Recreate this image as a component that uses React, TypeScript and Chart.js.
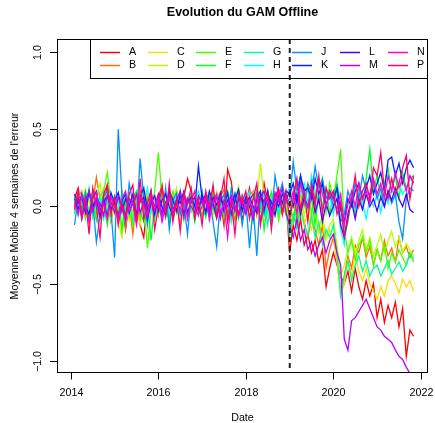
import React, { useEffect, useRef } from "react";
import { Chart, registerables } from "chart.js";

Chart.register(...registerables);

// ---- data (decimal years, monthly 4-week moving average of error) ----
const START_DATE = 2014.08;
const STEP = 1 / 12;
const BREAK_DATE = 2019;
const X_TICKS = [2014, 2016, 2018, 2020, 2022];
const X_TICK_LABELS = ["2014", "2016", "2018", "2020", "2022"];
const Y_TICKS = [-1, -0.5, 0, 0.5, 1];
const Y_TICK_LABELS = ["\u22121.0", "\u22120.5", "0.0", "0.5", "1.0"];
const SERIES_NAMES = ["A", "B", "C", "D", "E", "F", "G", "H", "J", "K", "L", "M", "N", "P"];
const COLORS = ["#FF0000", "#FF6D00", "#FFDB00", "#B6FF00", "#49FF00", "#00FF24", "#00FF92", "#00FFFF", "#0092FF", "#0024FF", "#4900FF", "#B600FF", "#FF00DB", "#FF006D"];

const A = [
  0.05, 0.12, -0.02, 0.08, -0.06, 0.1, 0.03, -0.08, 0.02, 0.14, -0.04,
  0.06, -0.1, 0.02, -0.15, 0.04, -0.05, 0.08, -0.12, -0.2, 0.03, 0.1, -0.06,
  0.05, 0.14, -0.03, 0.09, -0.08, 0.02, -0.1, 0.06, 0.18, 0.1, -0.04, 0.03,
  -0.06, 0.08, -0.02, 0.11, -0.07, 0.04, -0.12, 0.24, 0.16, -0.03, 0.07, -0.09,
  0.02, 0.12, -0.05, 0.09, -0.02, 0.15, 0.03, -0.08, 0.06, 0.1, -0.04, 0.05,
  -0.3, -0.12, -0.22, -0.08, -0.25, -0.18, -0.3, -0.22, -0.36, -0.28, -0.52, -0.4,
  -0.3, -0.38, -0.45, -0.5, -0.42, -0.55, -0.4, -0.52, -0.6, -0.48, -0.58, -0.5,
  -0.72, -0.6, -0.75, -0.64, -0.72, -0.62, -0.78, -0.66, -0.97, -0.8, -0.84,
];
const B = [
  -0.02, 0.06, 0.1, -0.04, 0.08, 0.02, 0.19, 0.05, -0.06, 0.04, -0.1,
  0.03, -0.08, 0.06, -0.14, 0.02, -0.18, 0.05, 0.1, -0.04, 0.07, -0.02, 0.04,
  -0.06, 0.08, 0.01, -0.1, 0.06, -0.03, 0.1, 0.02, -0.07, 0.05, 0.09, -0.02,
  0.04, -0.05, 0.07, 0.0, -0.08, 0.06, 0.11, -0.04, 0.03, -0.09, 0.05, 0.02,
  -0.03, 0.07, 0.1, -0.06, 0.04, -0.01, 0.08, -0.07, 0.02, 0.06, -0.05, 0.03,
  -0.15, -0.05, -0.12, 0.02, -0.1, -0.2, -0.08, -0.15, -0.25, -0.12, -0.4, -0.28,
  -0.2, -0.35, -0.55, -0.45, -0.32, -0.4, -0.25, -0.3, -0.2, -0.33, -0.26, -0.38,
  -0.28, -0.35, -0.22, -0.32, -0.27, -0.36, -0.2, -0.3, -0.26, -0.33, -0.28,
];
const C = [
  0.04, -0.06, 0.09, 0.02, -0.03, 0.07, -0.08, 0.05, 0.12, -0.02, 0.06,
  -0.05, 0.02, -0.18, 0.04, -0.09, 0.06, 0.01, -0.12, 0.05, 0.08, -0.04, 0.03,
  0.07, -0.06, 0.02, 0.1, -0.05, 0.04, -0.09, 0.06, 0.01, -0.04, 0.08, -0.02,
  0.05, 0.02, -0.07, 0.09, 0.03, -0.05, 0.06, -0.1, 0.04, 0.07, -0.03, 0.01,
  0.06, -0.04, 0.08, 0.02, -0.08, 0.05, 0.1, -0.03, 0.04, -0.06, 0.07, 0.0,
  -0.1, 0.02, -0.08, 0.05, -0.12, -0.04, -0.15, -0.06, -0.18, -0.1, -0.22, -0.15,
  -0.2, -0.35, -0.58, -0.5, -0.35, -0.45, -0.3, -0.42, -0.48, -0.4, -0.5, -0.55,
  -0.6, -0.52, -0.58, -0.48, -0.45, -0.5, -0.56, -0.47, -0.52, -0.48, -0.55,
];
const D = [
  0.02, 0.08, -0.05, 0.11, 0.04, -0.07, 0.06, 0.15, -0.02, 0.05, -0.08,
  0.04, -0.1, -0.2, 0.03, 0.07, -0.05, 0.02, -0.09, 0.1, -0.03, 0.05, 0.0,
  0.03, -0.07, 0.09, -0.02, 0.05, 0.12, -0.06, 0.03, -0.08, 0.06, 0.01, 0.08,
  -0.04, 0.07, 0.02, -0.06, 0.1, 0.04, -0.03, 0.08, -0.07, 0.05, 0.13, -0.02,
  0.04, -0.05, 0.09, 0.02, 0.28, 0.06, -0.04, 0.1, 0.03, -0.06, 0.07, 0.02,
  -0.05, 0.08, -0.02, 0.1, -0.06, 0.04, -0.1, 0.0, -0.15, -0.05, -0.2, -0.12,
  -0.08, -0.25, -0.45, -0.38, -0.28, -0.2, -0.3, -0.22, -0.15, -0.28, -0.2, -0.32,
  -0.25, -0.18, -0.3, -0.22, -0.16, -0.26, -0.2, -0.3, -0.24, -0.28, -0.32,
];
const E = [
  -0.03, 0.05, 0.02, -0.08, 0.09, 0.04, -0.05, 0.07, 0.1, 0.22, 0.03,
  0.06, -0.04, 0.08, -0.06, 0.02, -0.12, 0.05, -0.08, 0.04, -0.27, -0.02, 0.1,
  0.35, 0.05, -0.07, 0.03, 0.1, -0.04, 0.06, -0.09, 0.02, 0.08, -0.05, 0.04,
  0.01, -0.06, 0.09, 0.03, -0.04, 0.07, -0.08, 0.05, 0.02, -0.05, 0.1, -0.03,
  0.06, 0.02, -0.07, 0.12, 0.04, -0.05, 0.08, -0.02, 0.05, -0.09, 0.03, -0.06,
  -0.08, 0.05, -0.1, 0.08, 0.0, 0.12, -0.05, 0.1, 0.02, 0.18, -0.04, 0.15,
  0.05, 0.2, 0.37, -0.15, -0.3, -0.22, -0.35, -0.25, -0.2, -0.3, -0.22, -0.38,
  -0.28, -0.35, -0.25, -0.4, -0.3, -0.36, -0.28, -0.33, -0.38, -0.3, -0.36,
];
const F = [
  0.07, -0.04, 0.03, 0.1, -0.06, 0.02, -0.09, 0.05, 0.0, -0.12, 0.06,
  -0.02, 0.08, -0.15, 0.03, -0.06, 0.05, 0.1, -0.03, -0.1, 0.04, -0.22, 0.02,
  -0.05, 0.07, 0.02, -0.08, 0.05, -0.03, 0.09, 0.01, -0.06, 0.04, -0.1, 0.06,
  0.03, -0.07, 0.05, 0.08, -0.02, 0.06, -0.05, 0.1, -0.04, 0.02, -0.08, 0.07,
  -0.03, 0.05, -0.1, 0.04, 0.07, -0.15, 0.03, 0.09, -0.04, 0.06, -0.02, 0.08,
  0.02, -0.1, 0.06, -0.05, 0.1, -0.02, 0.05, -0.12, 0.08, 0.0, 0.12, -0.05,
  0.08, 0.15, 0.02, -0.2, -0.1, 0.05, -0.05, 0.12, 0.0, 0.18, 0.37, 0.1,
  0.2, 0.05, 0.15, 0.25, 0.1, 0.2, 0.05, 0.22, 0.12, 0.18, 0.2,
];
const G = [
  -0.05, 0.08, 0.03, -0.02, 0.12, -0.07, 0.04, 0.0, 0.09, -0.04, 0.06,
  0.02, -0.06, 0.1, -0.03, 0.05, -0.1, 0.03, 0.08, -0.05, 0.02, 0.06, -0.08,
  0.04, 0.0, -0.06, 0.08, 0.02, -0.04, 0.1, -0.07, 0.03, 0.06, -0.02, 0.05,
  -0.08, 0.04, 0.09, -0.03, 0.06, -0.06, 0.02, 0.08, -0.1, 0.04, 0.0, 0.07,
  0.03, -0.07, 0.05, 0.1, -0.03, 0.02, -0.12, 0.06, 0.04, -0.05, 0.09, -0.02,
  -0.2, -0.05, -0.15, -0.02, -0.12, -0.18, -0.06, -0.2, -0.1, -0.25, -0.15, -0.2,
  -0.12, -0.3, -0.58, -0.45, -0.35, -0.48, -0.38, -0.32, -0.42, -0.35, -0.45, -0.4,
  -0.38, -0.45, -0.4, -0.35, -0.44, -0.4, -0.36, -0.42, -0.38, -0.3, -0.34,
];
const H = [
  0.03, -0.06, 0.08, 0.02, -0.04, 0.1, -0.02, 0.05, -0.08, 0.04, 0.0,
  0.07, 0.02, -0.05, 0.09, -0.03, 0.04, -0.07, 0.06, 0.01, 0.12, -0.04, 0.03,
  -0.02, 0.05, 0.09, -0.04, 0.03, 0.07, -0.06, 0.02, 0.06, -0.03, 0.05, 0.1,
  0.02, -0.05, 0.06, 0.0, 0.08, -0.04, 0.05, 0.02, -0.06, 0.09, 0.03, -0.02,
  0.05, 0.1, -0.03, 0.06, 0.0, 0.08, -0.05, 0.04, 0.07, -0.02, 0.05, 0.08,
  0.12, 0.05, 0.18, 0.08, 0.15, 0.02, 0.2, 0.1, 0.05, 0.12, 0.0, 0.08,
  -0.05, 0.06, -0.15, -0.25, -0.05, 0.08, -0.02, 0.1, 0.02, -0.08, 0.05, 0.0,
  0.08, -0.04, 0.1, 0.02, 0.12, 0.05, 0.15, 0.08, 0.12, 0.18, 0.15,
];
const J = [
  -0.12, 0.05, -0.04, 0.08, -0.1, 0.03, -0.23, -0.06, 0.07, 0.1, -0.02,
  -0.33, 0.5, 0.08, -0.1, 0.15, 0.02, -0.08, 0.31, 0.05, -0.12, 0.1, -0.05,
  0.06, -0.08, 0.12, -0.15, 0.04, 0.09, -0.05, 0.02, -0.18, 0.07, 0.0, -0.06,
  0.1, -0.04, 0.05, -0.1, -0.26, 0.03, 0.08, -0.07, 0.12, -0.02, 0.06, -0.12,
  0.04, -0.27, 0.0, -0.32, 0.08, -0.05, 0.1, -0.08, 0.2, 0.06, 0.15, 0.02,
  0.05, 0.29, 0.1, 0.2, 0.02, 0.15, 0.08, 0.26, 0.12, 0.18, 0.05, 0.1,
  0.0, 0.12, -0.1, -0.05, 0.1, 0.02, 0.15, 0.05, 0.2, 0.1, 0.08, 0.15,
  0.05, 0.12, 0.0, 0.1, 0.02, 0.08, -0.1, -0.21, 0.05, 0.12, 0.1,
];
const K = [
  0.05, -0.02, 0.08, 0.0, -0.05, 0.06, 0.1, -0.03, 0.04, -0.07, 0.09,
  0.02, -0.06, 0.04, 0.08, -0.04, 0.03, -0.08, 0.06, 0.12, -0.02, 0.05, -0.05,
  0.07, 0.0, -0.06, 0.1, 0.04, -0.03, 0.08, -0.05, 0.02, 0.06, 0.0, 0.26,
  0.05, -0.04, 0.1, 0.02, -0.07, 0.06, 0.0, 0.09, -0.05, 0.04, 0.11, -0.03,
  0.06, 0.0, -0.08, 0.05, 0.1, -0.02, 0.07, 0.03, -0.06, 0.08, 0.02, 0.1,
  0.08, 0.15, 0.02, 0.2, 0.1, 0.12, 0.05, 0.18, 0.08, 0.15, 0.0, 0.1,
  0.05, 0.12, -0.02, -0.1, 0.05, 0.0, 0.1, 0.15, 0.05, 0.12, 0.2, 0.08,
  0.15, 0.22, 0.1, 0.3, 0.32, 0.2, 0.28, 0.15, 0.25, 0.3, 0.25,
];
const L = [
  0.08, 0.02, 0.06, -0.04, 0.1, 0.0, 0.05, -0.06, 0.03, 0.07, -0.02,
  0.04, 0.09, -0.03, 0.05, 0.0, 0.08, -0.05, 0.03, 0.06, -0.08, 0.02, 0.07,
  -0.03, 0.04, 0.08, 0.0, -0.06, 0.05, 0.02, 0.1, -0.04, 0.03, 0.06, -0.02,
  0.07, 0.03, -0.05, 0.06, 0.01, 0.09, -0.03, 0.04, 0.0, 0.08, -0.06, 0.05,
  0.02, 0.06, 0.0, -0.04, 0.07, 0.03, 0.1, -0.02, 0.05, 0.0, 0.08, 0.04,
  0.1, 0.0, 0.08, -0.05, 0.06, 0.0, 0.1, -0.04, 0.05, -0.1, 0.02, -0.06,
  0.0, 0.05, -0.12, -0.2, -0.05, 0.03, -0.08, 0.05, -0.02, 0.08, 0.0, 0.05,
  -0.03, 0.06, 0.0, 0.1, 0.04, 0.12, 0.05, 0.0, 0.08, -0.02, -0.04,
];
const M = [
  0.0, 0.06, -0.08, 0.04, 0.1, -0.03, 0.05, 0.02, -0.06, 0.08, 0.03,
  -0.04, 0.06, 0.0, -0.09, 0.05, 0.02, 0.08, -0.04, 0.03, -0.07, 0.05, 0.0,
  0.08, -0.05, 0.03, 0.06, -0.02, 0.04, 0.1, -0.07, 0.05, 0.0, -0.04, 0.07,
  0.02, 0.08, -0.04, 0.03, 0.06, -0.08, 0.04, 0.0, 0.07, -0.03, 0.05, 0.02,
  -0.05, 0.04, 0.08, -0.02, 0.05, 0.1, 0.0, -0.06, 0.09, 0.03, 0.12, -0.04,
  -0.12, -0.2, -0.08, -0.22, -0.15, -0.28, -0.23, -0.32, -0.25, -0.2, -0.3, -0.22,
  -0.18, -0.3, -0.38, -0.86, -0.93, -0.74, -0.72, -0.68, -0.64, -0.6, -0.66, -0.72,
  -0.78, -0.8, -0.84, -0.86, -0.88, -0.93, -0.97, -0.99, -1.04, -1.08, -1.12,
];
const N = [
  0.03, -0.05, 0.07, 0.0, -0.1, 0.05, 0.09, -0.04, 0.02, -0.08, 0.06,
  0.0, -0.07, 0.05, 0.1, -0.03, 0.02, -0.12, 0.06, 0.0, -0.05, 0.08, -0.02,
  0.05, -0.1, 0.0, 0.07, -0.06, 0.03, -0.02, 0.08, -0.08, 0.04, 0.1, -0.05,
  0.0, 0.06, -0.09, 0.03, 0.08, -0.04, 0.02, -0.2, 0.05, 0.0, -0.06, 0.07,
  -0.02, 0.04, -0.07, 0.08, -0.1, 0.02, 0.06, -0.05, 0.0, 0.1, -0.03, 0.05,
  0.0, 0.1, -0.05, 0.15, 0.05, 0.0, 0.12, 0.04, 0.18, 0.08, 0.0, 0.1,
  0.05, -0.02, 0.08, -0.12, 0.02, 0.1, 0.0, 0.15, 0.05, 0.1, 0.02, 0.18,
  0.08, 0.15, 0.05, 0.2, 0.1, 0.22, 0.12, 0.18, 0.1, 0.2, 0.15,
];
const P = [
  -0.02, 0.1, -0.08, 0.05, -0.18, 0.12, 0.0, -0.2, 0.08, 0.14, -0.05,
  0.06, -0.12, 0.02, -0.06, 0.08, 0.14, -0.1, 0.18, -0.08, 0.02, 0.1, -0.15,
  0.0, 0.12, -0.06, 0.15, -0.1, 0.05, -0.16, 0.08, 0.02, 0.12, -0.08, 0.04,
  -0.12, 0.1, 0.0, 0.14, -0.06, 0.05, 0.18, -0.1, 0.03, -0.18, 0.08, 0.02,
  0.1, -0.08, 0.05, 0.15, -0.12, 0.04, 0.08, -0.15, 0.06, 0.12, -0.05, 0.1,
  -0.08, 0.05, 0.18, -0.02, 0.1, -0.1, 0.15, 0.0, 0.2, -0.05, 0.12, 0.05,
  0.1, -0.05, 0.02, -0.2, -0.08, 0.05, 0.2, 0.0, 0.1, 0.15, 0.05, 0.25,
  0.2, 0.35, 0.1, 0.05, 0.18, 0.08, 0.15, 0.25, 0.33, 0.05, 0.2,
];
const SERIES = [A, B, C, D, E, F, G, H, J, K, L, M, N, P];

const TITLE = "Evolution du GAM Offline";
const X_LABEL = "Date";
const Y_LABEL = "Moyenne Mobile 4 semaines de l'erreur";

const FONT = "'Liberation Sans', Arial, Helvetica, sans-serif";

const rPlot = {
  id: "rPlot",
  afterDatasetsDraw(chart: any) {
    const { ctx, chartArea: ca, scales } = chart;
    const xs = scales.x;
    const ys = scales.y;
    ctx.save();

    // vertical dashed break line
    const bx = xs.getPixelForValue(BREAK_DATE);
    ctx.strokeStyle = "#222";
    ctx.lineWidth = 2;
    ctx.setLineDash([5, 4]);
    ctx.beginPath();
    ctx.moveTo(bx, ca.top);
    ctx.lineTo(bx, ca.bottom);
    ctx.stroke();
    ctx.setLineDash([]);

    // plot box
    ctx.strokeStyle = "#000";
    ctx.lineWidth = 1;
    ctx.strokeRect(ca.left + 0.5, ca.top + 0.5, ca.right - ca.left - 1, ca.bottom - ca.top - 1);

    ctx.fillStyle = "#000";
    ctx.font = `10.7px ${FONT}`;

    // x axis ticks
    X_TICKS.forEach((t, i) => {
      const px = Math.round(xs.getPixelForValue(t)) + 0.5;
      ctx.beginPath();
      ctx.moveTo(px, ca.bottom - 0.5);
      ctx.lineTo(px, ca.bottom + 6.5);
      ctx.stroke();
      ctx.textAlign = "center";
      ctx.textBaseline = "middle";
      ctx.fillText(X_TICK_LABELS[i], px, 393);
    });

    // y axis ticks (rotated labels like R)
    Y_TICKS.forEach((t, i) => {
      const py = Math.round(ys.getPixelForValue(t)) + 0.5;
      ctx.beginPath();
      ctx.moveTo(ca.left - 7, py);
      ctx.lineTo(ca.left + 0.5, py);
      ctx.stroke();
      ctx.save();
      ctx.translate(38, py);
      ctx.rotate(-Math.PI / 2);
      ctx.textAlign = "center";
      ctx.textBaseline = "middle";
      ctx.fillText(Y_TICK_LABELS[i], 0, 0);
      ctx.restore();
    });

    // axis titles
    ctx.textAlign = "center";
    ctx.textBaseline = "middle";
    ctx.fillText(X_LABEL, (ca.left + ca.right) / 2, 418);
    ctx.save();
    ctx.translate(15, (ca.top + ca.bottom) / 2);
    ctx.rotate(-Math.PI / 2);
    ctx.fillText(Y_LABEL, 0, 0);
    ctx.restore();

    // main title
    ctx.font = `bold 12.5px ${FONT}`;
    ctx.fillText(TITLE, (ca.left + ca.right) / 2, 13);

    // legend
    const lx0 = 90;
    ctx.strokeStyle = "#000";
    ctx.lineWidth = 1;
    ctx.strokeRect(lx0 + 0.5, ca.top + 0.5, ca.right - lx0 - 1, 39);
    ctx.font = `10.7px ${FONT}`;
    ctx.textAlign = "left";
    SERIES_NAMES.forEach((name, k) => {
      const col = Math.floor(k / 2);
      const row = k % 2;
      const x = 100 + col * 48;
      const y = 52.5 + row * 13;
      ctx.strokeStyle = COLORS[k];
      ctx.lineWidth = 1.5;
      ctx.beginPath();
      ctx.moveTo(x, y);
      ctx.lineTo(x + 20, y);
      ctx.stroke();
      ctx.fillStyle = "#000";
      ctx.fillText(name, x + 29, y);
    });

    ctx.restore();
  },
};

export default function App() {
  const ref = useRef<HTMLCanvasElement | null>(null);
  useEffect(() => {
    if (!ref.current) return;
    const datasets = SERIES.map((vals, k) => ({
      label: SERIES_NAMES[k],
      data: vals.map((v, i) => ({ x: START_DATE + i * STEP, y: v })),
      borderColor: COLORS[k],
      backgroundColor: COLORS[k],
      borderWidth: 1.3,
      pointRadius: 0,
      tension: 0,
      fill: false,
      order: SERIES.length - k,
    }));
    const chart = new Chart(ref.current, {
      type: "line",
      data: { datasets },
      options: {
        animation: false,
        responsive: false,
        parsing: false as any,
        layout: { padding: { left: 57, top: 39, right: 7, bottom: 50 } },
        scales: {
          x: { type: "linear", min: 2013.68, max: 2022.16, display: false },
          y: { type: "linear", min: -1.078, max: 1.084, display: false },
        },
        plugins: {
          legend: { display: false },
          tooltip: { enabled: false },
          title: { display: false },
        },
        events: [],
      },
      plugins: [rPlot],
    });
    return () => chart.destroy();
  }, []);
  return (
    <div style={{ position: "fixed", left: 0, top: 0, width: 435, height: 423, background: "#fff" }}>
      <canvas ref={ref} width={435} height={423} style={{ display: "block", width: 435, height: 423 }} />
    </div>
  );
}
